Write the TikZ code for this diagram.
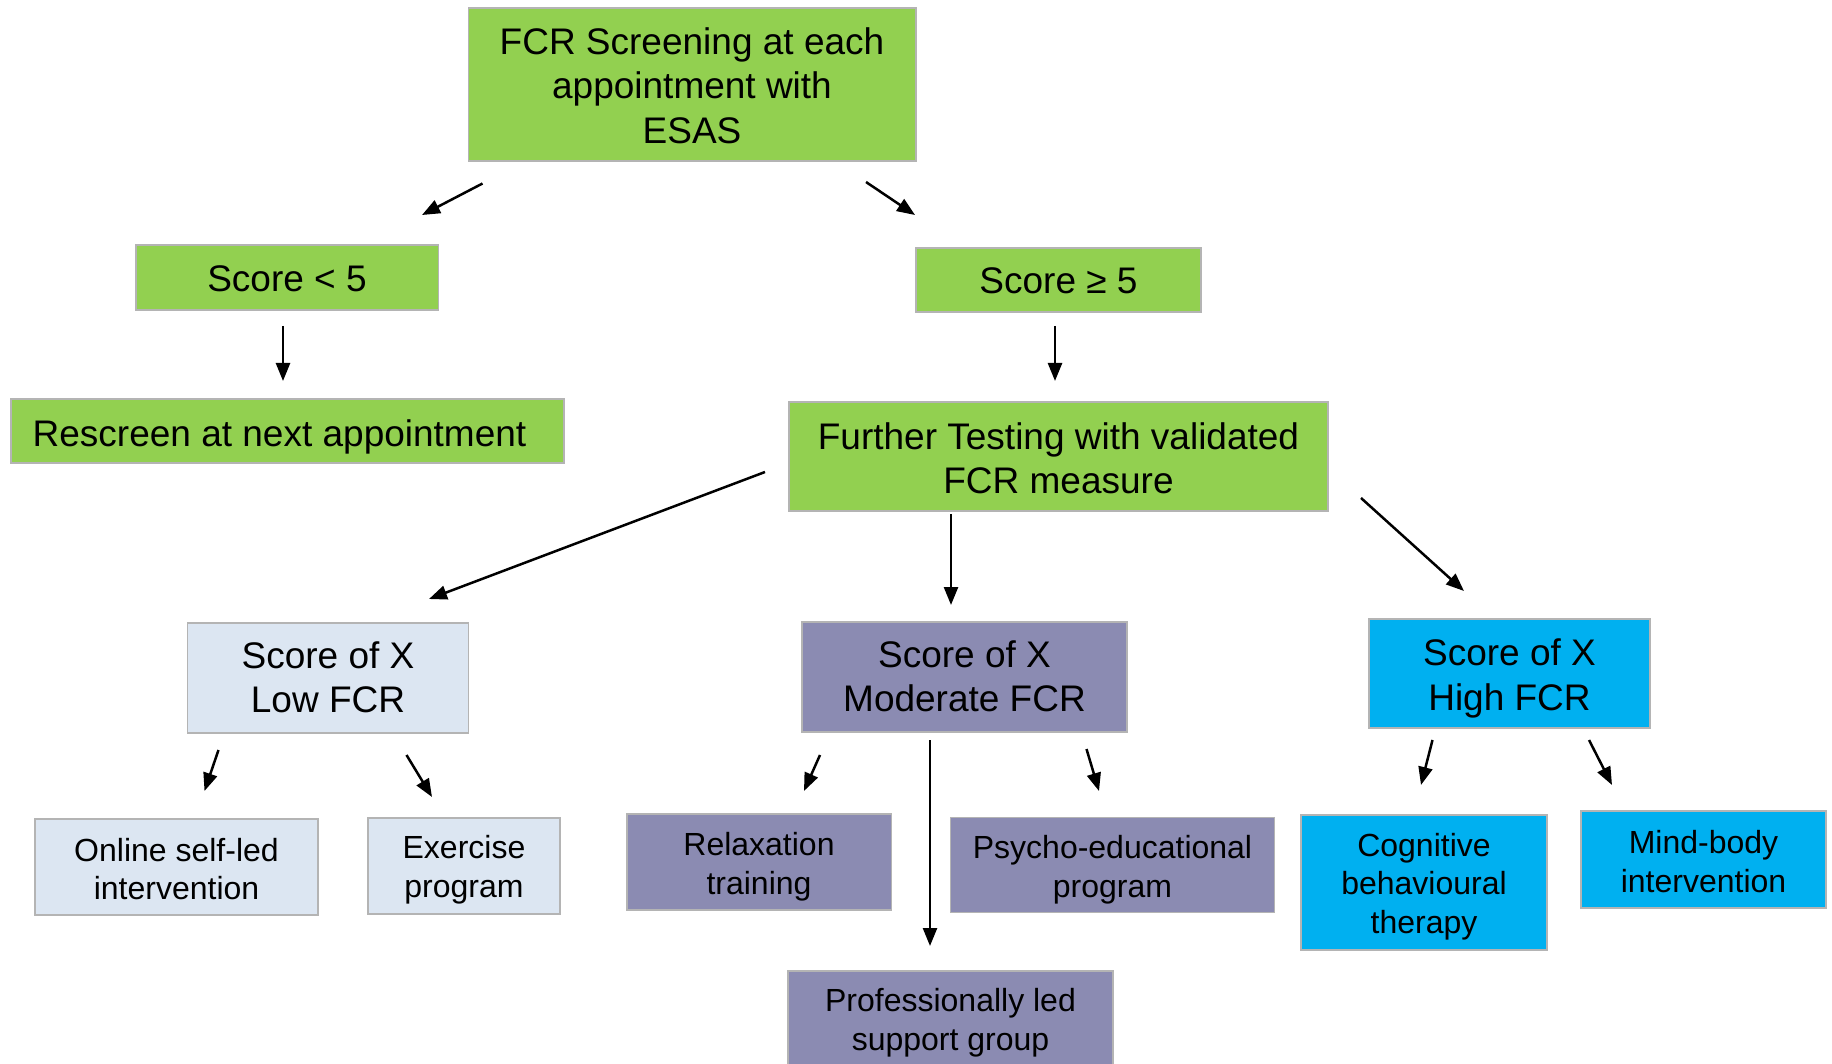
\documentclass[tikz,border=0pt]{standalone}
\usepackage{fontspec}
\setmainfont{Liberation Sans}
\usetikzlibrary{arrows.meta}
\definecolor{fgreen}{HTML}{92D050}
\definecolor{flow}{HTML}{DCE6F2}
\definecolor{fmod}{HTML}{8B8BB2}
\definecolor{fhigh}{HTML}{00B0F0}
\definecolor{fborder}{HTML}{B4B4B4}
\tikzset{
  box/.style={draw=fborder, line width=1.5pt, inner sep=0pt},
  gbox/.style={box, fill=fgreen},
  lbox/.style={box, fill=flow},
  mbox/.style={box, fill=fmod},
  hbox/.style={box, fill=fhigh},
  big/.style={inner sep=0pt, align=center, text=black, font=\fontsize{37}{44.4}\selectfont},
  small/.style={inner sep=0pt, align=center, text=black, font=\fontsize{32}{38.6}\selectfont},
  conn/.style={line width=2.5pt, -{Triangle[length=18pt,width=14pt]}},
}
\begin{document}
\begin{tikzpicture}[x=1pt,y=-1pt]
\useasboundingbox[fill=white] (0,0) rectangle (1832,1064);
% boxes
\node[gbox, minimum width=447.5, minimum height=153] (top) at (692,84.5) {};
\node[gbox, minimum width=302.5, minimum height=65] (lt) at (287,277.5) {};
\node[gbox, minimum width=285, minimum height=64] (ge) at (1058.5,280) {};
\node[gbox, minimum width=553, minimum height=64] (resc) at (287.5,431) {};
\node[gbox, minimum width=539, minimum height=109] (further) at (1058.5,456.5) {};
\node[lbox, minimum width=281, minimum height=110] (low) at (328,678) {};
\node[mbox, minimum width=325, minimum height=110] (mod) at (964.5,677) {};
\node[hbox, minimum width=281, minimum height=109] (high) at (1509.5,673.5) {};
\node[lbox, minimum width=283, minimum height=96] (online) at (176.5,867) {};
\node[lbox, minimum width=192, minimum height=96] (exer) at (464,866) {};
\node[mbox, minimum width=264.5, minimum height=96] (relax) at (759,862) {};
\node[mbox, minimum width=324, minimum height=95] (psycho) at (1112.5,865) {};
\node[mbox, minimum width=325, minimum height=99] (prof) at (950.5,1020.5) {};
\node[hbox, minimum width=246, minimum height=135] (cbt) at (1424,882.5) {};
\node[hbox, minimum width=245, minimum height=97] (mind) at (1703.5,859.5) {};
% texts
\node[big] (topt) at ([yshift=-1pt]top.center) {FCR Screening at each\\appointment with\\ESAS};
\node[big] (ltt) at ([yshift=-1pt]lt.center) {Score < 5};
\node[big] (get) at ([yshift=-1pt]ge.center) {Score ≥ 5};
\node[big] (resct) at ([xshift=-8pt,yshift=-6pt]resc.center) {Rescreen at next appointment};
\node[big] (furthert) at ([yshift=-2pt]further.center) {Further Testing with validated\\FCR measure};
\node[big] (lowt) at ([yshift=1pt]low.center) {Score of X\\Low FCR};
\node[big] (modt) at ([yshift=1pt]mod.center) {Score of X\\Moderate FCR};
\node[big] (hight) at ([yshift=-5pt]high.center) {Score of X\\High FCR};
\node[small] (onlinet) at ([yshift=-2pt]online.center) {Online self-led\\intervention};
\node[small] (exert) at ([yshift=-4pt]exer.center) {Exercise\\program};
\node[small] (relaxt) at ([yshift=-5pt]relax.center) {Relaxation\\training};
\node[small] (psychot) at ([yshift=-5pt]psycho.center) {Psycho-educational\\program};
\node[small] (proft) at ([yshift=-2pt]prof.center) {Professionally led\\support group};
\node[small] (cbtt) at ([yshift=-4pt]cbt.center) {Cognitive\\behavioural\\therapy};
\node[small] (mindt) at ([yshift=-2pt]mind.center) {Mind-body\\intervention};
% arrow end points
\coordinate (a1s) at (482.5,183.5); \coordinate (a1e) at (422,215);
\coordinate (a2s) at (866,182);     \coordinate (a2e) at (915,215);
\coordinate (a3s) at (283,326);     \coordinate (a3e) at (283,381);
\coordinate (a4s) at (1055,326);    \coordinate (a4e) at (1055,381);
\coordinate (a5s) at (765,472);     \coordinate (a5e) at (429,599);
\coordinate (a6s) at (951,514);     \coordinate (a6e) at (951,605);
\coordinate (a7s) at (1361,498);    \coordinate (a7e) at (1464,591);
\coordinate (a8s) at (218.5,750);   \coordinate (a8e) at (204.5,791);
\coordinate (a9s) at (406.5,755);   \coordinate (a9e) at (432,797);
\coordinate (a10s) at (820,755);    \coordinate (a10e) at (804,791);
\coordinate (a11s) at (930,740);    \coordinate (a11e) at (930,946);
\coordinate (a12s) at (1086.5,749); \coordinate (a12e) at (1099,791);
\coordinate (a13s) at (1432.5,740); \coordinate (a13e) at (1421,785);
\coordinate (a14s) at (1589,740);   \coordinate (a14e) at (1612,785);
% connectors
\foreach \i in {1,...,14} {\draw[conn] (a\i s) -- (a\i e);}
\end{tikzpicture}
\end{document}
